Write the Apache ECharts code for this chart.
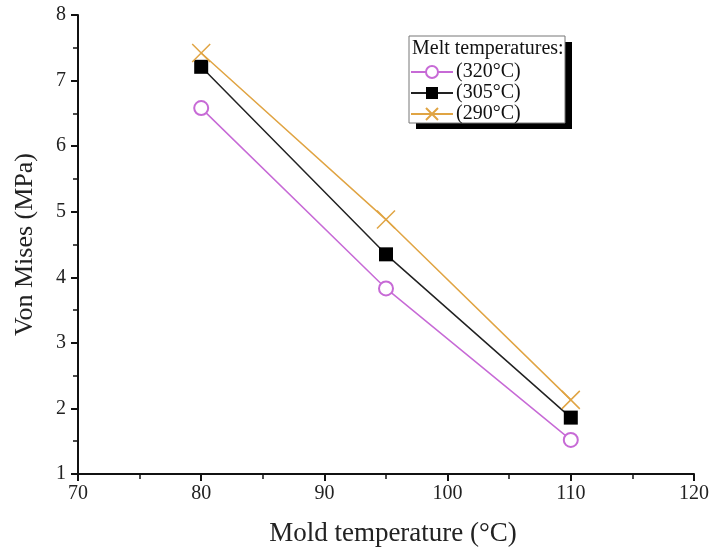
<!DOCTYPE html>
<html>
<head>
<meta charset="utf-8">
<script src="https://cdn.jsdelivr.net/npm/echarts@6/dist/echarts.min.js"></script>
<style>
  html, body { margin: 0; padding: 0; background: #fff; }
  #chart { width: 712px; height: 552px; }
</style>
</head>
<body>
<div id="chart"></div>
<script>
const moldTemps = [80, 95, 110];
const melt320 = [6.58, 3.83, 1.52];
const melt305 = [7.21, 4.35, 1.86];
const melt290 = [7.42, 4.88, 2.13];
const seriesNames = ["(320°C)", "(305°C)", "(290°C)"];

const font = "Liberation Serif";
const toPairs = (ys) => moldTemps.map((x, i) => [x, ys[i]]);

const option = {
  animation: false,
  textStyle: { fontFamily: font },
  grid: { left: 78, right: 15, top: 15, bottom: 75 },
  xAxis: {
    type: "value",
    min: 70, max: 120, interval: 10,
    name: "Mold temperature (°C)",
    nameLocation: "middle",
    nameGap: 46,
    nameTextStyle: { fontFamily: font, fontSize: 27, color: "#222", padding: [0, 0, 0, 14] },
    axisLine: { lineStyle: { color: "#111", width: 2 } },
    axisTick: { inside: false, length: 7, lineStyle: { color: "#111", width: 2 } },
    minorTick: { show: true, splitNumber: 2, length: 5, lineStyle: { color: "#111", width: 1.5 } },
    axisLabel: { fontFamily: font, fontSize: 20, color: "#222", margin: 10 },
    splitLine: { show: false }
  },
  yAxis: {
    type: "value",
    min: 1, max: 8, interval: 1,
    name: "Von Mises (MPa)",
    nameLocation: "middle",
    nameGap: 40,
    nameRotate: 90,
    nameTextStyle: { fontFamily: font, fontSize: 26, color: "#222" },
    axisLine: { show: true, lineStyle: { color: "#111", width: 2 } },
    axisTick: { show: true, inside: false, length: 7, lineStyle: { color: "#111", width: 2 } },
    minorTick: { show: true, splitNumber: 2, length: 5, lineStyle: { color: "#111", width: 1.5 } },
    axisLabel: { fontFamily: font, fontSize: 20, color: "#222", margin: 12 },
    splitLine: { show: false }
  },
  legend: {
    orient: "vertical",
    left: 410, top: 62,
    padding: 0,
    itemGap: 1,
    itemWidth: 42, itemHeight: 15,
    z: 20,
    textStyle: { fontFamily: font, fontSize: 20, color: "#111", padding: [0, 0, 0, -2] },
    data: seriesNames
  },
  graphic: [
    {
      type: "rect",
      z: 0,
      shape: { x: 416, y: 42, width: 156, height: 87 },
      style: { fill: "#000" }
    },
    {
      type: "rect",
      z: 1,
      shape: { x: 409, y: 36, width: 156, height: 87 },
      style: { fill: "#fff", stroke: "#777", lineWidth: 1 }
    },
    {
      type: "text",
      z: 2,
      left: 412, top: 39,
      style: { text: "Melt temperatures:", fontFamily: font, fontSize: 20, fill: "#111" }
    }
  ],
  series: [
    {
      name: seriesNames[0],
      type: "line",
      data: toPairs(melt320),
      symbol: "emptyCircle",
      symbolSize: 14,
      lineStyle: { color: "#c76ad6", width: 1.5 },
      itemStyle: { color: "#c76ad6", borderWidth: 1.5 },
      z: 3
    },
    {
      name: seriesNames[1],
      type: "line",
      data: toPairs(melt305),
      symbol: "rect",
      symbolSize: 14,
      lineStyle: { color: "#222", width: 1.5 },
      itemStyle: { color: "#000" },
      z: 3
    },
    {
      name: seriesNames[2],
      type: "line",
      data: toPairs(melt290),
      symbol: "path://M0,0L10,10M10,0L0,10",
      symbolSize: 18,
      lineStyle: { color: "#e0a443", width: 1.5 },
      itemStyle: { color: "none", borderColor: "#e0a443", borderWidth: 1.5 },
      z: 3
    }
  ]
};

const chart = echarts.init(document.getElementById("chart"));
chart.setOption(option);
window.addEventListener("resize", () => chart.resize());
</script>
</body>
</html>
